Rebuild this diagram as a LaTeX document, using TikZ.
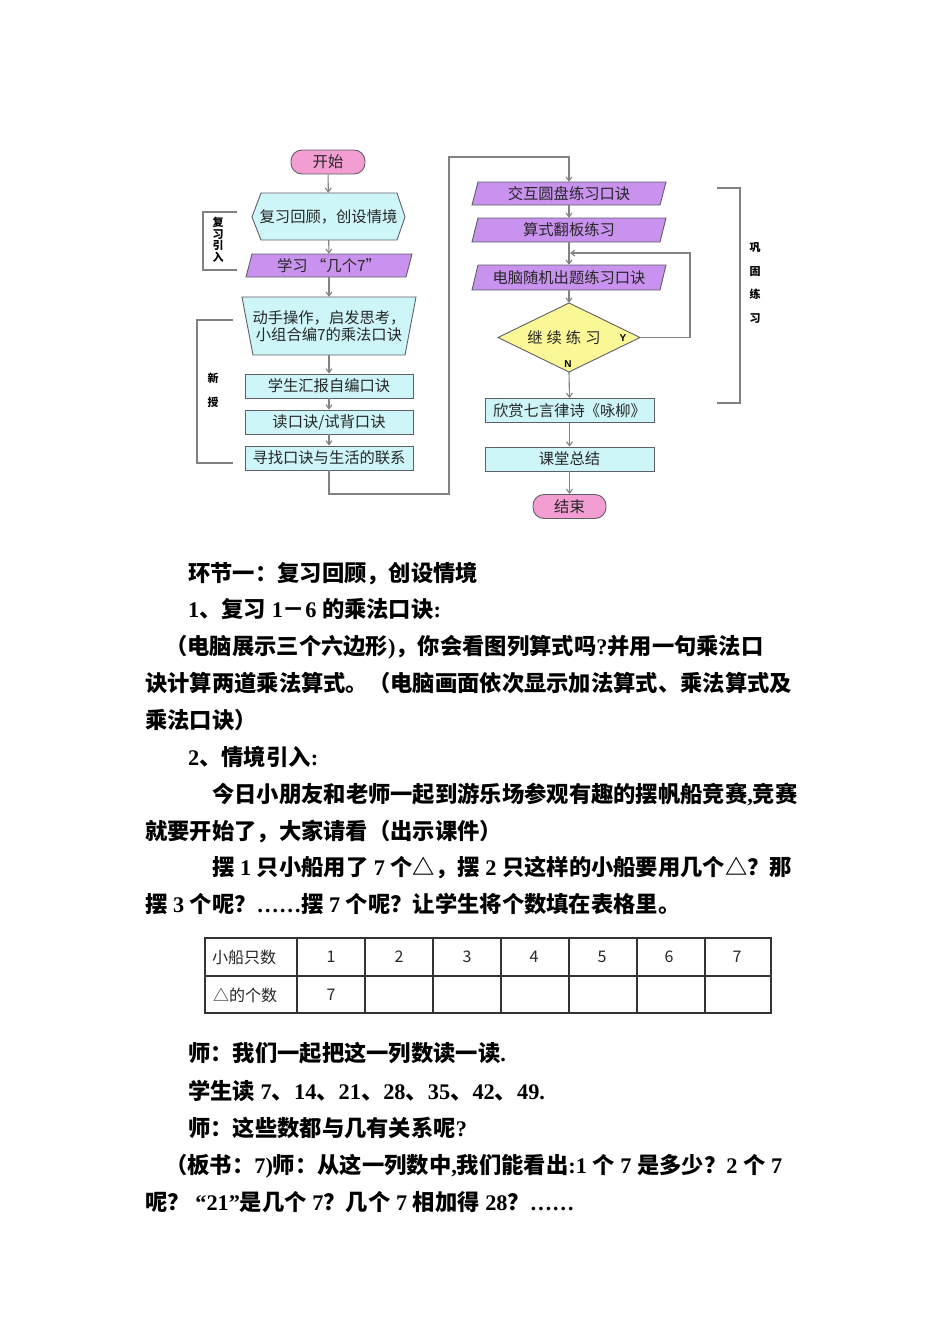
\documentclass[tikz,border=0pt]{standalone}
\usepackage{fontspec}
\setmainfont{Noto Sans CJK SC}
\newfontfamily\latn{Liberation Serif}
\newfontfamily\arialf{Liberation Sans}
\newfontfamily\kai{Noto Sans CJK SC}
\usetikzlibrary{arrows.meta}
\definecolor{pinkbox}{RGB}{242,158,210}
\definecolor{cyanbox}{RGB}{206,246,249}
\definecolor{purplebox}{RGB}{200,146,238}
\definecolor{yellowbox}{RGB}{250,248,150}
\definecolor{edgegray}{RGB}{95,95,105}
\definecolor{arrowgray}{RGB}{130,130,130}
\newcommand\tnr[1]{{\latn\bfseries #1}}
\begin{document}
\begin{tikzpicture}[x=1pt,y=-1pt,
  fc/.style={font=\kai\fontsize{15.3}{17}\selectfont, inner sep=0pt, text=black!85},
  boxline/.style={draw=edgegray, line width=0.9pt},
  arr/.style={draw=arrowgray, line width=1.1pt, -{Straight Barb[length=4pt,width=6pt]}},
  brk/.style={draw=gray, line width=1.1pt},
  body/.style={anchor=base west, inner sep=0pt, font=\bfseries\fontsize{22.3}{26}\selectfont},
  side/.style={font=\bfseries\fontsize{11}{11.5}\selectfont, inner sep=0pt, align=center},
  sidewide/.style={font=\bfseries\fontsize{11}{23.5}\selectfont, inner sep=0pt, align=center},
  tblline/.style={draw=black!80, line width=1.3pt},
  tc/.style={font=\kai\fontsize{16}{17}\selectfont, inner sep=0pt, text=black!85}
]
\useasboundingbox (0,0) rectangle (950,1344);
\fill[white] (0,0) rectangle (950,1344);

% ---------------- left column ----------------
\node[fc, boxline, fill=pinkbox, rounded corners=11pt, minimum width=74pt, minimum height=24pt] (start) at (328,162) {开始};

\filldraw[boxline, fill=cyanbox] (252,217) -- (261,193) -- (397,193) -- (405,217) -- (397,240) -- (261,240) -- cycle;
\node[fc, minimum width=153pt, minimum height=47pt] (review) at (328.5,216.5) {复习回顾，创设情境};

\filldraw[boxline, fill=purplebox] (246,277) -- (252,254) -- (412,254) -- (406,277) -- cycle;
\node[fc, minimum width=166pt, minimum height=23pt] (learn) at (329,265.5) {学习 “几个7”};

\filldraw[boxline, fill=cyanbox] (242,297) -- (416,297) -- (405,355) -- (253,355) -- cycle;
\node[fc, align=center, minimum width=174pt, minimum height=58pt] (hands) at (329,326) {动手操作，启发思考，\\小组合编7的乘法口诀};

\node[fc, boxline, fill=cyanbox, minimum width=168pt, minimum height=24pt] (rep) at (329,386) {学生汇报自编口诀};
\node[fc, boxline, fill=cyanbox, minimum width=168pt, minimum height=24pt] (read) at (329,422) {读口诀/试背口诀};
\node[fc, boxline, fill=cyanbox, minimum width=168pt, minimum height=24pt] (find) at (329,458) {寻找口诀与生活的联系};

\draw[arr] (start) -- (review);
\draw[arr] (review) -- (learn);
\draw[arr] (learn) -- (hands);
\draw[arr] (hands) -- (rep);
\draw[arr] (rep) -- (read);
\draw[arr] (read) -- (find);

% ---------------- right column ----------------
\filldraw[boxline, fill=purplebox] (472,205) -- (478,182) -- (666,182) -- (660,205) -- cycle;
\node[fc, minimum width=194pt, minimum height=23pt] (inter) at (569,193.5) {交互圆盘练习口诀};

\filldraw[boxline, fill=purplebox] (472,242) -- (478,218) -- (666,218) -- (660,242) -- cycle;
\node[fc, minimum width=194pt, minimum height=24pt] (flip) at (569,230) {算式翻板练习};

\filldraw[boxline, fill=purplebox] (472,290) -- (478,265) -- (666,265) -- (660,290) -- cycle;
\node[fc, minimum width=194pt, minimum height=25pt] (rand) at (569,277.5) {电脑随机出题练习口诀};

\filldraw[boxline, fill=yellowbox] (498,337.5) -- (569,303) -- (640,337.5) -- (569,372) -- cycle;
\node[minimum width=142pt, minimum height=69pt, inner sep=0pt] (cont) at (569,337.5) {};
\node[fc] (conttext) at (564,338) {继\hspace{4pt}续\hspace{4pt}练\hspace{4pt}习};
\node[inner sep=0pt, font=\arialf\bfseries\fontsize{10}{10}\selectfont] (ylab) at (623,338) {Y};
\node[inner sep=0pt, font=\arialf\bfseries\fontsize{10}{10}\selectfont] (nlab) at (568,364) {N};

\node[fc, boxline, fill=cyanbox, minimum width=169pt, minimum height=24pt] (poem) at (569.5,410.5) {欣赏七言律诗《咏柳》};
\node[fc, boxline, fill=cyanbox, minimum width=169pt, minimum height=24pt] (sum) at (569.5,459) {课堂总结};
\node[fc, boxline, fill=pinkbox, rounded corners=11pt, minimum width=73pt, minimum height=24pt] (stop) at (569.5,506.5) {结束};

\coordinate (k1) at (329,494);
\coordinate (k2) at (449,494);
\coordinate (k3) at (449,157);
\coordinate (k4) at (569,157);
\draw[arr] (find.south) -- (k1) -- (k2) -- (k3) -- (k4) -- (inter.north);

\draw[arr] (inter) -- (flip);
\draw[arr] (flip) -- (rand);
\draw[arr] (rand.south) -- (cont.north);
\draw[arr] (cont.south) -- (poem.north);
\draw[arr] (poem) -- (sum);
\draw[arr] (sum) -- (stop);

\coordinate (y1) at (690,337.5);
\coordinate (y2) at (690,253);
\coordinate (y3) at (570,253);
\draw[arr] (cont.east) -- (y1) -- (y2) -- (y3);

% ---------------- brackets ----------------
\draw[brk] (237,212) -- (203,212) -- (203,270) -- (237,270);
\node[side] (s1) at (218,240) {复\\习\\引\\入};
\draw[brk] (233,320) -- (197,320) -- (197,463) -- (233,463);
\node[side] (s2a) at (213,378) {新};
\node[side] (s2b) at (213,402) {授};
\draw[brk] (717,188) -- (740,188) -- (740,403) -- (717,403);
\node[sidewide] (s3) at (755,283) {巩\\固\\练\\习};

% ---------------- body text ----------------
\node[body] (l1) at (188,581) {环节一：复习回顾，创设情境};
\node[body] (l2) at (188,617) {\tnr{1}、复习\tnr{~1}－\tnr{6~}的乘法口诀\tnr{:}};
\node[body] (l3) at (165,654) {（电脑展示三个六边形\tnr{)}，你会看图列算式吗\tnr{?}并用一句乘法口};
\node[body] (l4) at (145,691) {诀计算两道乘法算式。（电脑画面依次显示加法算式、乘法算式及};
\node[body] (l5) at (145,728) {乘法口诀）};
\node[body] (l6) at (188,765) {\tnr{2}、情境引入\tnr{:}};
\node[body] (l7) at (212,802) {今日小朋友和老师一起到游乐场参观有趣的摆帆船竞赛\tnr{,}竞赛};
\node[body] (l8) at (145,839) {就要开始了，大家请看（出示课件）};
\node[body] (l9) at (212,875) {摆\tnr{~1~}只小船用了\tnr{~7~}个△，摆\tnr{~2~}只这样的小船要用几个△？那};
\node[body] (l10) at (145,912) {摆\tnr{~3~}个呢？\tnr{……}摆\tnr{~7~}个呢？让学生将个数填在表格里。};

% ---------------- table ----------------
\draw[tblline] (205,938) rectangle (771,1013);
\draw[tblline] (205,976) -- (771,976);
\foreach \xx in {297,365,433,501,569,637,705} {
  \draw[tblline] (\xx,938) -- (\xx,1013);
}
\node[tc, anchor=west] (h0) at (212,957) {小船只数};
\node[tc] (h1) at (331,957) {1};
\node[tc] (h2) at (399,957) {2};
\node[tc] (h3) at (467,957) {3};
\node[tc] (h4) at (534,957) {4};
\node[tc] (h5) at (602,957) {5};
\node[tc] (h6) at (669,957) {6};
\node[tc] (h7) at (737,957) {7};
\node[tc, anchor=west] (g0) at (213,995) {△的个数};
\node[tc] (g1) at (331,995) {7};

% ---------------- body text (after table) ----------------
\node[body] (l11) at (188,1061) {师：我们一起把这一列数读一读\tnr{.}};
\node[body] (l12) at (188,1099) {学生读\tnr{~7}、\tnr{14}、\tnr{21}、\tnr{28}、\tnr{35}、\tnr{42}、\tnr{49.}};
\node[body] (l13) at (188,1136) {师：这些数都与几有关系呢\tnr{?}};
\node[body] (l14) at (165,1173) {（板书：\tnr{7)}师：从这一列数中\tnr{,}我们能看出\tnr{:1~}个\tnr{~7~}是多少？\tnr{2~}个\tnr{~7}};
\node[body] (l15) at (145,1210) {呢？\tnr{~“21”}是几个\tnr{~7}？几个\tnr{~7~}相加得\tnr{~28}？\tnr{……}};
\end{tikzpicture}
\end{document}
